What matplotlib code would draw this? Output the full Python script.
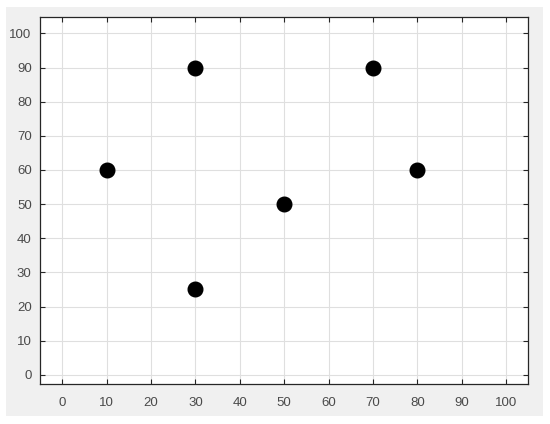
import matplotlib
matplotlib.use("Agg")
import matplotlib.pyplot as plt
from matplotlib.patches import Rectangle

x_vals = [10, 30, 30, 50, 70, 80]
y_vals = [60, 90, 25, 50, 90, 60]
ticks = list(range(0, 101, 10))

plt.rcParams['font.family'] = ['Liberation Sans', 'DejaVu Sans']

fig = plt.figure(figsize=(5.5, 4.24), dpi=100)
fig.patch.set_facecolor('white')
W, H = 550, 424
fig.patches.append(Rectangle((6 / W, 1 - 416 / H), (543 - 6) / W, (416 - 7) / H,
                             transform=fig.transFigure, facecolor='#f0f0f0',
                             edgecolor='none', zorder=-10))

ax = fig.add_axes([40 / W, 1 - 384 / H, (528.3 - 40) / W, (384 - 17) / H])
ax.set_zorder(5)
ax.set_facecolor('white')
ax.plot(x_vals, y_vals, 'o', color='black', markersize=10.5, zorder=3)

ax.set_xlim(-5, 105)
ax.set_ylim(-2.7, 104.8)
ax.set_xticks(ticks)
ax.set_yticks(ticks)
ax.grid(True, color='#dfdfdf', linewidth=0.8)
ax.set_axisbelow(True)
ax.tick_params(direction='in', length=3.5, width=0.8, colors='#262626',
               labelcolor='#4a4a4a', labelsize=9.5, top=True, right=True)
ax.tick_params(axis='x', pad=9)
ax.tick_params(axis='y', pad=6)
for s in ax.spines.values():
    s.set_color('#262626')
    s.set_linewidth(0.9)

fig.savefig('out.png', dpi=100)
